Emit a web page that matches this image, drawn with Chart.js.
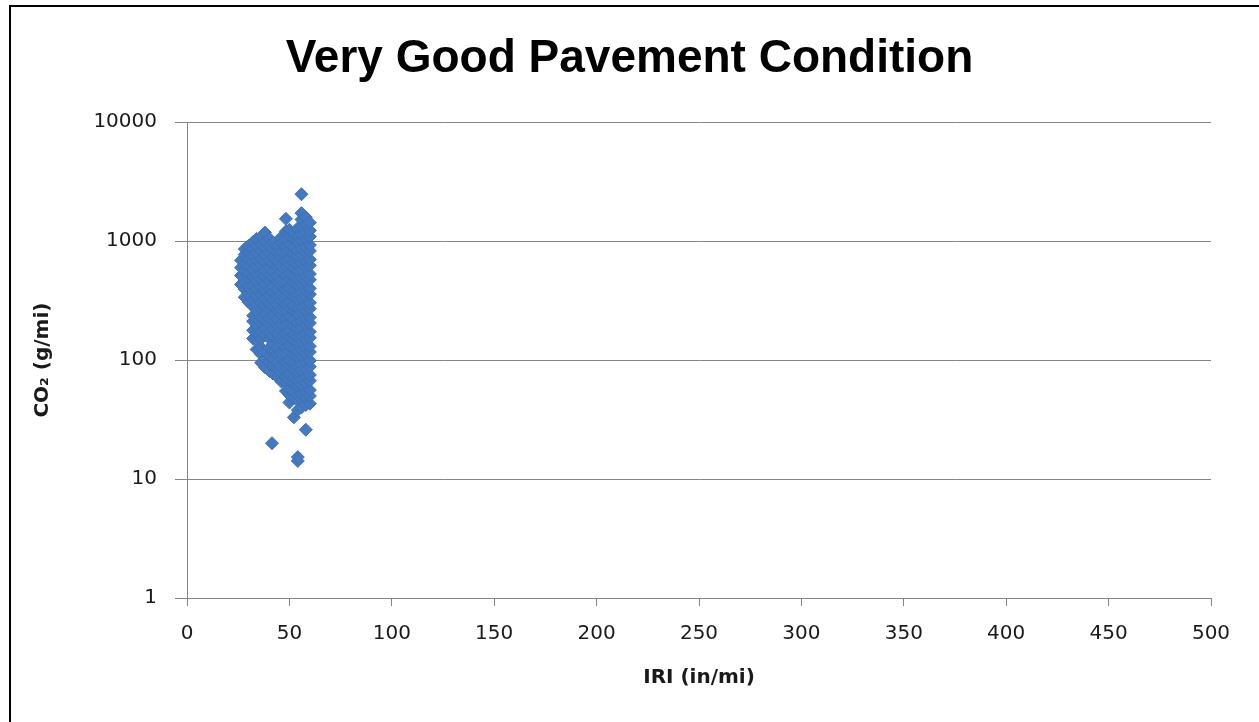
<!DOCTYPE html>
<html>
<head>
<meta charset="utf-8">
<script src="https://cdn.jsdelivr.net/npm/chart.js@4/dist/chart.umd.min.js"></script>
<style>
  html, body { margin: 0; padding: 0; background: #fff; overflow: hidden; }
  #frame { position: absolute; left: 9px; top: 5px; width: 1400px; height: 900px;
           border-left: 2px solid #000; border-top: 2px solid #000; box-sizing: border-box; }
  #c { position: absolute; left: 0; top: 0; }
</style>
</head>
<body>
<div id="frame"></div>
<canvas id="c" width="1259" height="722"></canvas>
<script>
// ---- data ----
const chartTitle = 'Very Good Pavement Condition';
const xTitle = 'IRI (in/mi)';
const yTitle = 'CO\u2082 (g/mi)';
const xTicks = [0, 50, 100, 150, 200, 250, 300, 350, 400, 450, 500];
const yTicks = [1, 10, 100, 1000, 10000];

// IRI value of each vertical band of the point cloud
const iriColumns = [26.4, 28.2, 30.1, 32.3, 34.0, 36.2, 38.1, 40.3, 42.0, 44.2, 46.1, 48.3, 50.0, 52.2, 54.1, 55.9, 58.0, 60.0];
// CO2 values (g/mi) of the points within each band
const co2Columns = [
  [432, 515, 598, 690],
  [338, 395, 447, 566, 637, 772, 858],
  [306, 362, 418, 489, 537, 628, 705, 812, 915],
  [152, 178, 212, 236, 281, 318, 374, 427, 506, 574, 668, 742, 866, 985],
  [123, 146, 168, 199, 221, 263, 296, 351, 397, 466, 524, 617, 694, 808, 912, 1045],
  [95, 112, 127, 152, 173, 204, 228, 268, 302, 356, 405, 476, 535, 628, 704, 826, 935, 1085],
  [87, 103, 117, 162, 183, 218, 243, 288, 327, 386, 436, 511, 574, 676, 763, 887, 1004, 1180],
  [81, 96, 108, 127, 152, 170, 201, 225, 266, 297, 349, 391, 462, 518, 607, 684, 798, 902, 1046],
  [77, 91, 103, 121, 136, 160, 180, 213, 239, 282, 316, 373, 419, 494, 553, 652, 733, 858, 975],
  [72, 85, 96, 114, 127, 150, 168, 199, 222, 263, 294, 348, 391, 460, 516, 608, 682, 803, 908],
  [66, 78, 87, 103, 115, 136, 152, 180, 201, 239, 266, 315, 352, 417, 466, 551, 617, 727, 818, 962, 1085],
  [55, 65, 73, 86, 97, 115, 128, 151, 170, 201, 225, 266, 297, 351, 393, 465, 520, 614, 689, 812, 912, 1075, 1210, 1540],
  [44, 51, 57, 68, 76, 89, 100, 118, 132, 156, 175, 207, 231, 273, 306, 362, 405, 478, 535, 632, 708, 836, 938, 1105, 1245],
  [33, 48, 54, 64, 71, 84, 94, 111, 125, 147, 165, 195, 219, 258, 288, 341, 382, 450, 505, 596, 668, 788, 884, 1042, 1170],
  [14.2, 15.3, 38, 46, 51, 61, 68, 80, 90, 106, 119, 140, 157, 186, 208, 246, 275, 325, 364, 430, 482, 568, 637, 752, 843, 995, 1118, 1285],
  [40, 47, 52, 62, 69, 82, 92, 108, 122, 143, 160, 190, 213, 251, 282, 333, 372, 440, 494, 583, 653, 770, 866, 1020, 1145, 1330, 1520, 1720, 2480],
  [26, 42, 49, 54, 65, 72, 85, 96, 113, 127, 149, 167, 197, 221, 260, 292, 345, 386, 456, 511, 604, 676, 798, 894, 1055, 1183, 1390, 1590],
  [43, 50, 56, 67, 75, 88, 99, 117, 131, 154, 173, 205, 229, 270, 303, 358, 401, 473, 530, 626, 701, 828, 928, 1092, 1230, 1430]
];
// isolated points
const outlierIri = [41.5];
const outlierCo2 = [20];

// ---- build points ----
const points = [];
iriColumns.forEach((x, i) => co2Columns[i].forEach(y => points.push({x: x, y: y})));
outlierIri.forEach((x, i) => points.push({x: x, y: outlierCo2[i]}));

const gridGray = '#858585';
const tickFont = {family: 'DejaVu Sans', size: 20};
const axisTitleFont = {family: 'DejaVu Sans', size: 20, weight: 'bold'};

new Chart(document.getElementById('c'), {
  type: 'scatter',
  data: {
    datasets: [{
      data: points,
      pointStyle: 'rectRot',
      pointRadius: 6.5,
      pointBorderWidth: 1,
      backgroundColor: '#4379c0',
      borderColor: '#3f72b4',
      showLine: false
    }]
  },
  options: {
    responsive: false,
    devicePixelRatio: 1,
    animation: false,
    layout: {padding: {left: 0, right: 0, top: 0, bottom: 0}},
    plugins: {
      legend: {display: false},
      tooltip: {enabled: false},
      title: {
        display: true,
        text: chartTitle,
        color: '#000',
        font: {family: 'Liberation Sans', size: 46, weight: 'bold'},
        padding: {top: 32, bottom: 35}
      }
    },
    scales: {
      x: {
        type: 'linear',
        position: 'bottom',
        min: 0, max: 500,
        afterFit: s => { s.height = 124; },
        afterBuildTicks: s => { s.ticks = xTicks.map(v => ({value: v})); },
        ticks: {font: tickFont, color: '#1a1a1a', padding: 16, maxRotation: 0, callback: v => String(v)},
        grid: {drawOnChartArea: false, drawTicks: true, tickLength: 8, color: gridGray},
        border: {display: true, color: gridGray},
        title: {display: true, text: xTitle, font: axisTitleFont, color: '#1a1a1a', padding: {top: 0, bottom: 32}}
      },
      y: {
        type: 'logarithmic',
        position: 'left',
        min: 1, max: 10000,
        afterFit: s => { s.width = 187; },
        afterBuildTicks: s => { s.ticks = yTicks.map(v => ({value: v})); },
        ticks: {font: tickFont, color: '#1a1a1a', padding: 18, callback: v => String(v)},
        grid: {color: gridGray, drawTicks: true, tickLength: 12},
        border: {display: true, color: gridGray},
        title: {display: true, text: yTitle, font: axisTitleFont, color: '#1a1a1a', padding: {top: 31, bottom: 0}}
      },
      yRight: {
        type: 'linear',
        position: 'right',
        display: true,
        afterFit: s => { s.width = 48; },
        ticks: {display: false},
        grid: {display: false},
        border: {display: false}
      }
    }
  }
});
</script>
</body>
</html>
